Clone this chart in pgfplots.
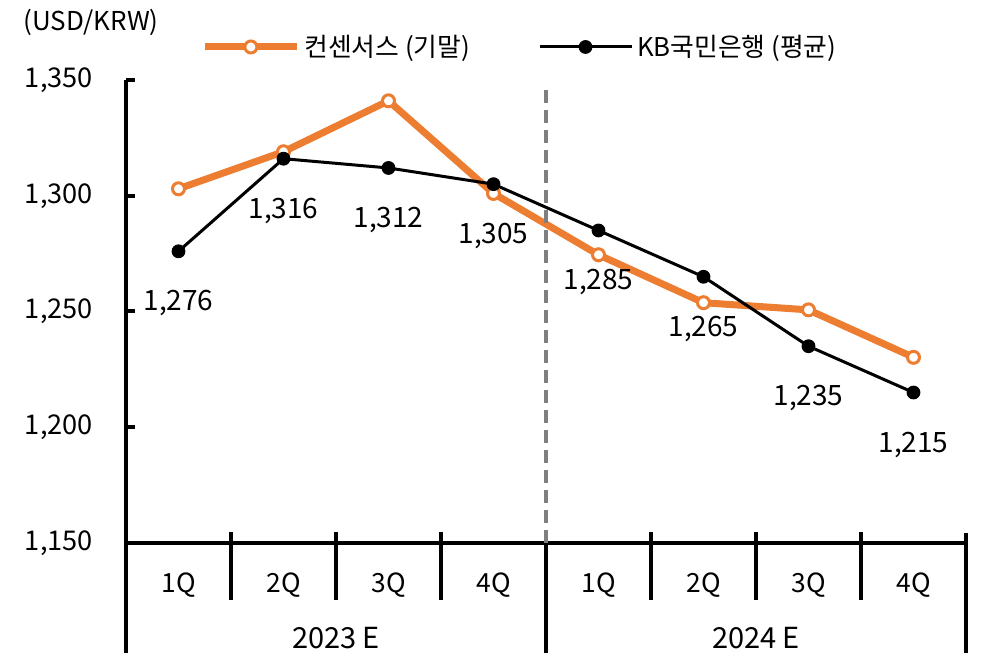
\documentclass[border=0pt]{standalone}
\usepackage{fontspec}
\setmainfont{Noto Sans CJK KR}
\usepackage{pgfplots}
\pgfplotsset{compat=1.18}
\definecolor{cons}{HTML}{ED7D31}
\definecolor{dgray}{HTML}{7F7F7F}
\begin{document}
\begin{tikzpicture}
\path[use as bounding box] (-63pt,-62pt) rectangle (440.5pt,271.5pt);
\begin{axis}[
  at={(0pt,0pt)}, anchor=south west,
  scale only axis, width=420pt, height=231.5pt,
  xmin=-0.5, xmax=7.5, ymin=1150, ymax=1350,
  clip=false,
  axis x line=bottom, axis y line=left,
  axis line style={line width=2pt,-,black},
  xtick={0,...,7},
  xticklabels={1Q,2Q,3Q,4Q,1Q,2Q,3Q,4Q},
  x tick style={draw=none},
  xticklabel style={anchor=center, yshift=-21pt, font=\fontsize{13.2}{15}\selectfont},
  ytick={1150,1200,1250,1300,1350},
  tick align=inside,
  major tick length=4.5pt,
  y tick style={line width=2pt,black},
  yticklabel style={anchor=east, xshift=-13pt, font=\fontsize{13.6}{16}\selectfont},
  scaled y ticks=false,
  /pgf/number format/.cd, 1000 sep={,}, assume math mode=true,
  /pgfplots/.cd,
  legend columns=2,
  legend style={draw=none, fill=none, inner sep=0pt,
    at={(rel axis cs:0.0893,1.0713)}, anchor=west,
    font=\fontsize{12.9}{15}\selectfont,
    /tikz/every even column/.append style={column sep=32pt}},
  legend cell align=left,
  legend image code/.code={
    \draw[mark repeat=2,mark phase=2,#1] plot coordinates {(0pt,0pt) (23pt,0pt) (46pt,0pt)};
  },
]
\addplot[cons, line width=3.5pt, mark=*, mark size=3pt,
  mark options={fill=white, draw=cons, line width=1.5pt}]
  coordinates {(0,1303) (1,1319) (2,1341) (3,1301) (4,1274.5) (5,1253.8) (6,1250.7) (7,1230.2)};
\addlegendentry{컨센서스 (기말)}
\addplot[black, line width=1.5pt, mark=*, mark size=3.2pt,
  mark options={fill=black, draw=black, line width=0.5pt},
  nodes near coords,
  nodes near coords style={anchor=center, yshift=-26pt, black,
    font=\fontsize{14}{16}\selectfont}]
  coordinates {(0,1276) (1,1316) (2,1312) (3,1305) (4,1285) (5,1265) (6,1235) (7,1215)};
\addlegendentry{KB국민은행 (평균)}
% dashed divider
\draw[dgray, line width=1.6pt, dash pattern=on 6.5pt off 3.5pt] (axis cs:3.5,1150) -- (axis cs:3.5,1346.5);
% short separators
\draw[black, line width=2pt] ([yshift=5.5pt]axis cs:0.5,1150) -- ([yshift=-28.5pt]axis cs:0.5,1150);
\draw[black, line width=2pt] ([yshift=5.5pt]axis cs:1.5,1150) -- ([yshift=-28.5pt]axis cs:1.5,1150);
\draw[black, line width=2pt] ([yshift=5.5pt]axis cs:2.5,1150) -- ([yshift=-28.5pt]axis cs:2.5,1150);
\draw[black, line width=2pt] ([yshift=5.5pt]axis cs:4.5,1150) -- ([yshift=-28.5pt]axis cs:4.5,1150);
\draw[black, line width=2pt] ([yshift=5.5pt]axis cs:5.5,1150) -- ([yshift=-28.5pt]axis cs:5.5,1150);
\draw[black, line width=2pt] ([yshift=5.5pt]axis cs:6.5,1150) -- ([yshift=-28.5pt]axis cs:6.5,1150);
% long separators
\draw[black, line width=2pt] (axis cs:-0.5,1150) -- ([yshift=-55pt]axis cs:-0.5,1150);
\draw[black, line width=2pt] (axis cs:3.5,1150) -- ([yshift=-55pt]axis cs:3.5,1150);
\draw[black, line width=2pt] ([yshift=5pt]axis cs:7.5,1150) -- ([yshift=-55pt]axis cs:7.5,1150);
% group labels
\node[font=\fontsize{14.5}{17}\selectfont] at ([yshift=-47.5pt]axis cs:1.5,1150) {2023 E};
\node[font=\fontsize{14.5}{17}\selectfont] at ([yshift=-47.5pt]axis cs:5.5,1150) {2024 E};
% unit label
\node[font=\fontsize{13}{15}\selectfont] at (rel axis cs:0,1) [xshift=-17.5pt, yshift=29pt] {(USD/KRW)};
\end{axis}
\end{tikzpicture}
\end{document}
